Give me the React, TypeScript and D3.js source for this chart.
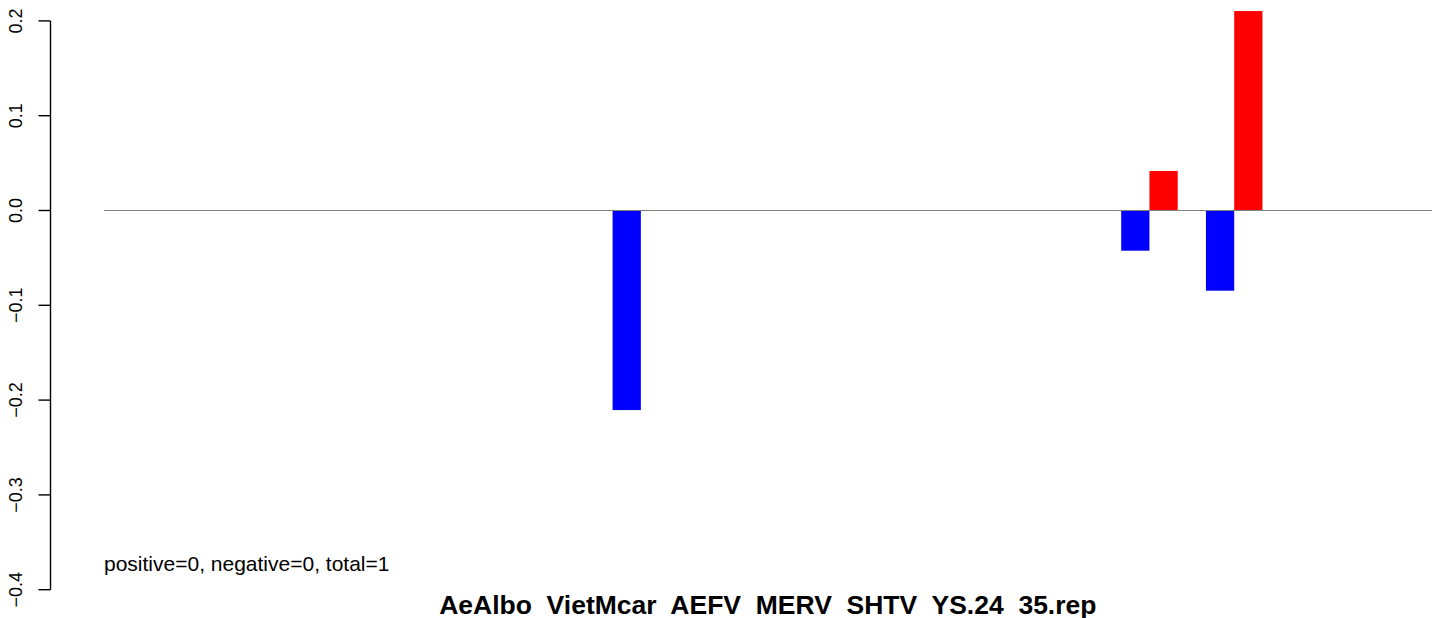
import React from "react";
import * as d3 from "d3";

const groups = Array.from({ length: 16 }, (_, i) => `G${i + 1}`);
const blueValues = [0, 0, 0, 0, 0, 0, -0.2105, 0, 0, 0, 0, 0, -0.0424, -0.0846, 0, 0];
const redValues = [0, 0, 0, 0, 0, 0, 0, 0, 0, 0, 0, 0, 0.0417, 0.2104, 0, 0];
const yTicks = [-0.4, -0.3, -0.2, -0.1, 0.0, 0.1, 0.2];
const title = "AeAlbo  VietMcar  AEFV  MERV  SHTV  YS.24  35.rep";
const note = "positive=0, negative=0, total=1";

export default function App() {
  const W = 1444, H = 618;
  const n = groups.length;
  const x = d3.scaleLinear().domain([1, 3 * n]).range([104, 1432]);
  const y = d3.scaleLinear().domain([-0.4, 0.2]).range([589.7, 20.9]);
  const plotLeft = 50.5;
  const plotRight = x(3 * n + 0.04 * (3 * n - 1));
  const font = "'Liberation Sans', Arial, Helvetica, sans-serif";

  const bars: { x0: number; x1: number; v: number; c: string }[] = [];
  groups.forEach((_, g) => {
    bars.push({ x0: 3 * g + 1, x1: 3 * g + 2, v: blueValues[g], c: "#0000ff" });
    bars.push({ x0: 3 * g + 2, x1: 3 * g + 3, v: redValues[g], c: "#ff0000" });
  });

  return (
    <svg width={W} height={H} style={{ position: "absolute", left: 0, top: 0 }}>
      <rect width={W} height={H} fill="#ffffff" />
      {bars.map((b, i) =>
        b.v === 0 ? null : (
          <rect
            key={i}
            x={x(b.x0)}
            width={x(b.x1) - x(b.x0)}
            y={Math.min(y(0), y(b.v))}
            height={Math.abs(y(b.v) - y(0))}
            fill={b.c}
          />
        )
      )}
      <line x1={x(1)} x2={x(3 * n)} y1={y(0)} y2={y(0)} stroke="#808080" strokeWidth={1} />
      <line x1={plotLeft} x2={plotLeft} y1={y(0.2)} y2={y(-0.4)} stroke="#000" strokeWidth={1.4} />
      {yTicks.map((t) => (
        <g key={t}>
          <line x1={plotLeft - 12} x2={plotLeft} y1={y(t)} y2={y(t)} stroke="#000" strokeWidth={1.4} />
          <text
            transform={`translate(22,${y(t)}) rotate(-90)`}
            textAnchor="middle"
            fontFamily={font}
            fontSize={18}
            fill="#000"
          >
            {d3.format(".1f")(t).replace("-", "\u2212")}
          </text>
        </g>
      ))}
      <text x={x(1)} y={570.5} fontFamily={font} fontSize={21} fill="#000">
        {note}
      </text>
      <text
        x={(plotLeft + plotRight) / 2}
        y={614}
        textAnchor="middle"
        fontFamily={font}
        fontSize={26.5}
        fontWeight="bold"
        fill="#000"
        style={{ whiteSpace: "pre" }}
      >
        {title}
      </text>
    </svg>
  );
}
